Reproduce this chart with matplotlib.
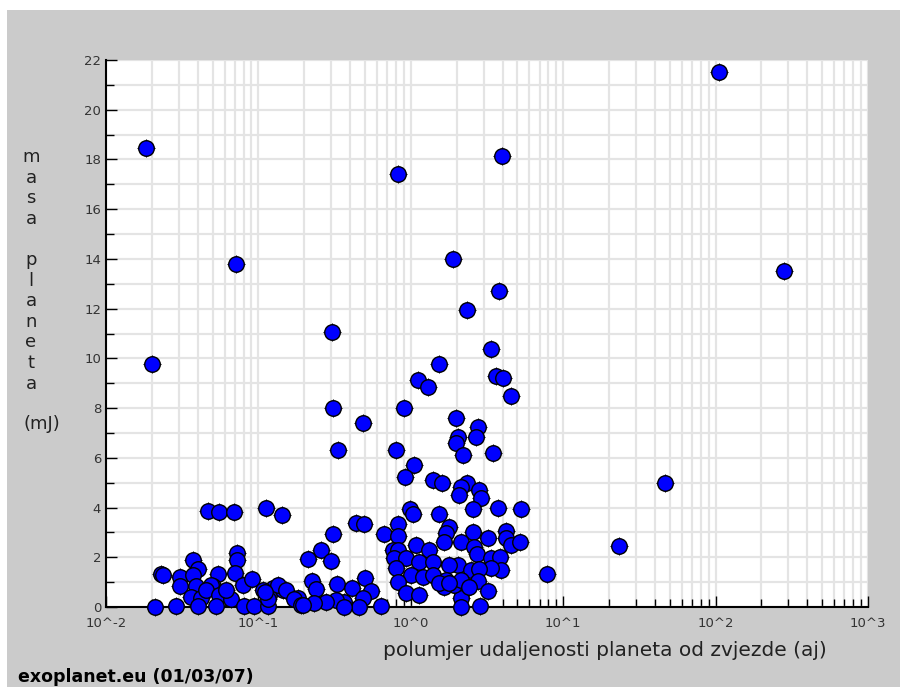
import matplotlib
matplotlib.use('Agg')
import matplotlib.pyplot as plt
from matplotlib.patches import Rectangle
from matplotlib.ticker import FixedLocator, LogLocator, NullFormatter

# udaljenost (aj) i masa (mJ), procitano sa slike
dist = [
    # lijevo, vruci jupiteri
    0.0182, 0.0199, 0.0715, 0.0211, 0.0231, 0.0236, 0.0286, 0.0308, 0.0308,
    0.0375, 0.0399, 0.0375, 0.0387, 0.0359, 0.0417, 0.0399, 0.0464, 0.0548,
    0.0687, 0.0540, 0.0500, 0.0485, 0.0450, 0.0591, 0.0548, 0.0657, 0.0524,
    0.0719, 0.0719, 0.0700, 0.0787, 0.0902, 0.0800, 0.0929, 0.1150, 0.1130,
    0.1420, 0.1240, 0.1170, 0.1460, 0.1810, 0.1080, 0.1340, 0.1510, 0.1700,
    0.1150, 0.1890, 0.1110, 0.0610,
    # sredina
    0.303, 0.307, 0.484, 0.331, 0.435, 0.491, 0.307, 0.256, 0.210, 0.298,
    0.224, 0.238, 0.327, 0.410, 0.499, 0.546, 0.484, 0.635, 0.455, 0.363,
    0.322, 0.277, 0.231, 0.195, 0.665, 0.363,
    # oko 1 aj
    0.83, 3.96, 1.89, 2.33, 3.79, 3.35, 3.62, 4.02, 4.54, 1.53, 1.11, 1.29,
    0.90, 1.98, 2.76, 2.67, 2.04, 1.98, 2.20, 3.46, 0.80, 1.05, 0.92, 1.40,
    1.60, 2.33, 2.13, 2.80, 2.07, 2.88, 0.985, 1.03, 1.53, 2.55, 3.73, 5.28,
    4.21, 4.21, 4.54, 5.20, 2.55, 2.13, 3.21, 2.59, 2.71, 3.35, 3.84, 3.90,
    3.35, 2.04, 2.48, 2.80, 2.76, 3.21, 2.37, 2.07, 2.13, 2.13, 2.84, 1.92,
    0.82, 0.82, 1.78, 1.70, 1.65, 1.08, 1.31, 0.76, 0.83, 0.77, 0.93, 1.13,
    1.40, 1.78, 0.80, 1.00, 1.20, 1.40, 1.70, 2.13, 2.40, 0.83, 0.93, 1.13,
    1.65, 1.53, 1.78,
    # daleko
    7.83, 23.3, 46.6, 105.0, 283.0,
]
mass = [
    18.47, 9.76, 13.79, 0.0, 1.33, 1.29, 0.04, 1.21, 0.85,
    1.90, 1.53, 1.29, 0.85, 0.40, 0.36, 0.04, 3.87, 3.83,
    3.83, 1.33, 0.85, 0.89, 0.69, 0.60, 0.48, 0.32, 0.04,
    2.18, 1.90, 1.37, 0.89, 1.13, 0.04, 0.04, 0.04, 4.00,
    3.71, 0.77, 0.48, 0.69, 0.36, 0.69, 0.89, 0.69, 0.32,
    0.32, 0.08, 0.60, 0.69,
    11.05, 8.00, 7.42, 6.33, 3.39, 3.35, 2.94, 2.30, 1.94, 1.85,
    1.05, 0.73, 0.93, 0.77, 1.17, 0.65, 0.36, 0.04, 0.0, 0.20,
    0.28, 0.20, 0.16, 0.08, 2.94, 0.0,
    17.42, 18.15, 14.0, 11.94, 12.7, 10.36, 9.31, 9.2, 8.5, 9.76, 9.11, 8.83,
    8.0, 7.62, 7.22, 6.85, 6.85, 6.61, 6.13, 6.21, 6.33, 5.73, 5.24, 5.12,
    5.0, 5.0, 4.84, 4.72, 4.52, 4.40, 3.95, 3.75, 3.75, 3.95, 4.0, 3.95,
    3.06, 2.78, 2.5, 2.62, 3.0, 2.62, 2.78, 2.42, 2.14, 1.98, 2.02, 1.49,
    1.57, 1.69, 1.49, 1.53, 1.05, 0.65, 0.81, 0.81, 0.36, 0.0, 0.04, 0.89,
    3.35, 2.86, 3.23, 2.98, 2.62, 2.50, 2.30, 2.30, 2.30, 1.98, 1.98, 1.81,
    1.81, 1.69, 1.57, 1.29, 1.21, 1.29, 1.09, 1.09, 0.81, 1.01, 0.56, 0.48,
    0.81, 0.97, 0.97,
    1.33, 2.46, 5.0, 21.5, 13.5,
]

xtick_vals = [1e-2, 1e-1, 1e0, 1e1, 1e2, 1e3]
xtick_labels = ['10^-2', '10^-1', '10^0', '10^1', '10^2', '10^3']
ytick_vals = list(range(0, 23, 2))

fig = plt.figure(figsize=(9, 6.87), dpi=100)
fig.patch.set_facecolor('white')
# sivi okvir
fig.patches.append(Rectangle((7 / 900, 0), 1, 1 - 10 / 687, transform=fig.transFigure,
                             facecolor='#cbcbcb', edgecolor='none', zorder=-10))

ax = fig.add_axes([106 / 900, 80 / 687, 762 / 900, 547 / 687])
ax.set_zorder(1)
ax.set_facecolor('white')
ax.set_xscale('log')
ax.set_xlim(1e-2, 1e3)
ax.set_ylim(0, 22)

ax.set_xticks(xtick_vals)
ax.set_xticklabels(xtick_labels)
ax.xaxis.set_minor_locator(LogLocator(base=10, subs=range(2, 10), numticks=20))
ax.xaxis.set_minor_formatter(NullFormatter())
ax.set_yticks(ytick_vals)
ax.yaxis.set_minor_locator(FixedLocator(range(1, 22, 2)))

ax.grid(True, which='both', color='#e4e4e4', linewidth=1.6, zorder=0)
ax.set_axisbelow(True)
for s in ['top', 'right']:
    ax.spines[s].set_visible(False)
for s in ['left', 'bottom']:
    ax.spines[s].set_color('black')
    ax.spines[s].set_linewidth(1.5)

ax.tick_params(which='major', direction='in', length=8, width=1, colors='black',
               labelcolor='#333333', labelsize=9.5)
ax.tick_params(which='minor', direction='in', length=6, width=1, colors='black')
ax.tick_params(axis='x', pad=7)

ax.scatter(dist, mass, marker='+', s=175, color='black', linewidths=0.8, zorder=3,
           clip_on=False)
ax.scatter(dist, mass, marker='o', s=125, facecolor='#0000ff', edgecolor='black',
           linewidths=1, zorder=4, clip_on=False)

# okomiti natpis osi y
ylab = 'masa planeta'
ytop = 157
for i, ch in enumerate(ylab):
    if ch == ' ':
        continue
    fig.text(31 / 900, 1 - (ytop + i * 20.6) / 687, ch, ha='center', va='center',
             fontsize=13, color='#222222')
fig.text(42 / 900, 1 - 424 / 687, '(mJ)', ha='center', va='center',
         fontsize=13, color='#222222')

fig.text(605 / 900, 1 - 651 / 687, 'polumjer udaljenosti planeta od zvjezde (aj)',
         ha='center', va='center', fontsize=14.5, color='#222222')
fig.text(18 / 900, 1 - 677 / 687, 'exoplanet.eu (01/03/07)', ha='left', va='center',
         fontsize=12.5, fontweight='bold', color='black')

fig.savefig('out.png', dpi=100, facecolor=fig.get_facecolor())
